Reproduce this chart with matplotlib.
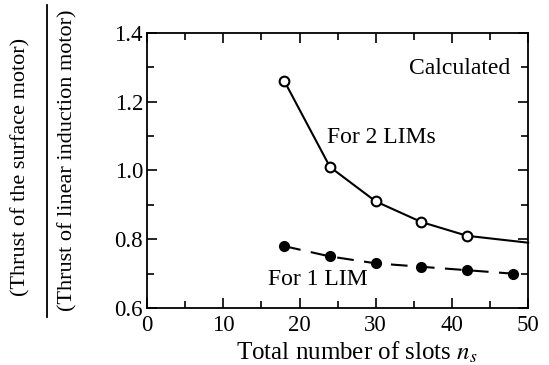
import matplotlib
matplotlib.use("Agg")
import matplotlib.pyplot as plt
from matplotlib.lines import Line2D
from matplotlib.ticker import MultipleLocator

plt.rcParams['font.family'] = ['Liberation Serif', 'DejaVu Serif']
plt.rcParams['mathtext.fontset'] = 'stix'

# Thrust ratio versus total number of slots
slots_2lim = [18, 24, 30, 36, 42, 50]
ratio_2lim = [1.26, 1.01, 0.91, 0.85, 0.81, 0.79]
slots_1lim = [18, 24, 30, 36, 42, 48]
ratio_1lim = [0.78, 0.75, 0.73, 0.72, 0.71, 0.70]

fig = plt.figure(figsize=(5.49, 3.65), dpi=100)
ax = fig.add_axes([0.268, 0.156, 0.694, 0.754])

ax.plot(slots_2lim, ratio_2lim, color='black', lw=1.5, marker='o', ms=7,
        mfc='white', mec='black', mew=1.5, markevery=[0, 1, 2, 3, 4],
        clip_on=False, zorder=3)
ax.plot(slots_1lim, ratio_1lim, color='black', lw=1.5, ls=(0, (8, 5)),
        marker='o', ms=7, mfc='black', mec='black', zorder=3)

ax.set_xlim(0, 50)
ax.set_ylim(0.6, 1.4)
ax.xaxis.set_major_locator(MultipleLocator(10))
ax.xaxis.set_minor_locator(MultipleLocator(5))
ax.yaxis.set_major_locator(MultipleLocator(0.2))
ax.yaxis.set_minor_locator(MultipleLocator(0.1))
ax.set_yticklabels([f"{v:.1f}" for v in ax.get_yticks()])
ax.tick_params(which='both', direction='in', top=True, right=True,
               labelsize=16.5, width=1.2)
ax.tick_params(which='major', length=7)
ax.tick_params(which='minor', length=5)
ax.tick_params(axis='x', which='major', pad=5)
ax.tick_params(axis='y', which='major', pad=3)
for s in ax.spines.values():
    s.set_linewidth(1.3)

ax.set_xlabel("Total number of slots $n_s$", fontsize=18)
ax.xaxis.set_label_coords(0.55, -0.115)

ax.text(0.953, 0.87, "Calculated", transform=ax.transAxes, ha='right',
        va='center', fontsize=17)
ax.text(30.7, 1.095, "For 2 LIMs", ha='center', va='center', fontsize=17)
ax.text(22.4, 0.684, "For 1 LIM", ha='center', va='center', fontsize=17)

# y-axis label written as a ratio
fig.text(0.037, 0.542, "(Thrust of the surface motor)", rotation=90,
         ha='center', va='center', fontsize=16)
fig.text(0.124, 0.56, "(Thrust of linear induction motor)", rotation=90,
         ha='center', va='center', fontsize=16)
fig.add_artist(Line2D([0.085, 0.085], [0.132, 0.986], color='black', lw=1.3,
                      transform=fig.transFigure))

fig.savefig("out.png", dpi=100)
